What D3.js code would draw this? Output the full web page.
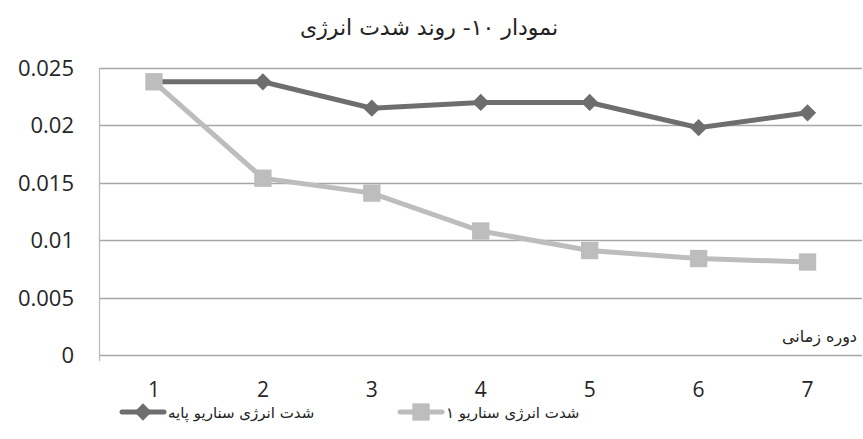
<!DOCTYPE html>
<html>
<head>
<meta charset="utf-8">
<script src="https://cdn.jsdelivr.net/npm/d3@7"></script>
<style>
  body { margin: 0; background: #fff; }
  svg { display: block; }
  .fa { font-family: "DejaVu Sans", sans-serif; }
  .num { font-family: "Open Sans", sans-serif; }
</style>
</head>
<body>
<div id="chart"></div>
<script>
// Chart data
const periods = [1, 2, 3, 4, 5, 6, 7];
const baseScenario = [0.0238, 0.0238, 0.0215, 0.0220, 0.0220, 0.0198, 0.0211];
const scenario1 = [0.0238, 0.0154, 0.0141, 0.0108, 0.0091, 0.0084, 0.0081];
const yTicks = [0, 0.005, 0.01, 0.015, 0.02, 0.025];
const yTickLabels = ['0', '0.005', '0.01', '0.015', '0.02', '0.025'];
const seriesNames = ['شدت انرژی سناریو پایه', 'شدت انرژی سناریو ۱'];
const chartTitle = 'نمودار ۱۰- روند شدت انرژی';
const xAxisTitle = 'دوره زمانی';

const W = 863, H = 439;
const margin = { top: 68, right: 1, bottom: 84, left: 99.5 };

const svg = d3.select('#chart').append('svg')
    .attr('width', W)
    .attr('height', H);

const x = d3.scaleBand()
    .domain(periods)
    .range([margin.left, W - margin.right]);

const y = d3.scaleLinear()
    .domain([0, 0.025])
    .range([H - margin.bottom, margin.top]);

// Gridlines
svg.append('g')
    .selectAll('line')
    .data(yTicks)
    .enter()
    .append('line')
    .attr('x1', margin.left)
    .attr('x2', W - margin.right)
    .attr('y1', d => Math.round(y(d)) + 0.5)
    .attr('y2', d => Math.round(y(d)) + 0.5)
    .attr('stroke', '#a6a6a6')
    .attr('stroke-width', 1.3);

// Vertical axis line
svg.append('line')
    .attr('x1', margin.left)
    .attr('x2', margin.left)
    .attr('y1', y(0.025))
    .attr('y2', y(0) + 6)
    .attr('stroke', '#bcbcbc')
    .attr('stroke-width', 1.3);

// Y tick labels
svg.append('g')
    .selectAll('text')
    .data(yTicks)
    .enter()
    .append('text')
    .attr('class', 'num')
    .attr('x', 74)
    .attr('y', d => y(d))
    .attr('dy', '0.36em')
    .attr('text-anchor', 'end')
    .style('font-size', '22px')
    .attr('fill', '#262626')
    .text((d, i) => yTickLabels[i]);

// X tick labels
svg.append('g')
    .selectAll('text')
    .data(periods)
    .enter()
    .append('text')
    .attr('class', 'num')
    .attr('x', d => x(d) + x.bandwidth() / 2)
    .attr('y', 397)
    .attr('text-anchor', 'middle')
    .style('font-size', '21px')
    .attr('fill', '#262626')
    .text(d => d);

// Axis title
svg.append('text')
    .attr('class', 'fa')
    .attr('x', 857)
    .attr('y', 342)
    .attr('text-anchor', 'end')
    .style('font-size', '16px')
    .attr('fill', '#222')
    .text(xAxisTitle);

// Chart title
svg.append('text')
    .attr('class', 'fa')
    .attr('x', 429)
    .attr('y', 35)
    .attr('text-anchor', 'middle')
    .style('font-size', '22px')
    .attr('fill', '#222')
    .text(chartTitle);

const cx = d => x(d) + x.bandwidth() / 2;
const line = d3.line()
    .x((d, i) => cx(periods[i]))
    .y(d => y(d));

const colors = ['#6e6e6e', '#bdbdbd'];

// Scenario 1 (drawn first so base sits on top at the shared start)
svg.append('path')
    .datum(scenario1)
    .attr('d', line)
    .attr('fill', 'none')
    .attr('stroke', colors[1])
    .attr('stroke-width', 5);

// Base scenario
svg.append('path')
    .datum(baseScenario)
    .attr('d', line)
    .attr('fill', 'none')
    .attr('stroke', colors[0])
    .attr('stroke-width', 5);

const diamond = d3.symbol().type(d3.symbolDiamond2).size(190);
const square = d3.symbol().type(d3.symbolSquare).size(300);

svg.append('g')
    .selectAll('path')
    .data(baseScenario)
    .enter()
    .append('path')
    .attr('d', diamond)
    .attr('transform', (d, i) => `translate(${cx(periods[i])},${y(d)})`)
    .attr('fill', colors[0]);

svg.append('g')
    .selectAll('path')
    .data(scenario1)
    .enter()
    .append('path')
    .attr('d', square)
    .attr('transform', (d, i) => `translate(${cx(periods[i])},${y(d)})`)
    .attr('fill', colors[1]);

// Legend
const legendItems = [
    { x0: 122, name: seriesNames[0], color: colors[0], sym: diamond },
    { x0: 400, name: seriesNames[1], color: colors[1], sym: square }
];
const legendY = 412;
legendItems.forEach(item => {
    svg.append('line')
        .attr('x1', item.x0)
        .attr('x2', item.x0 + 42)
        .attr('y1', legendY)
        .attr('y2', legendY)
        .attr('stroke', item.color)
        .attr('stroke-width', 5)
        .attr('stroke-linecap', 'round');
    svg.append('path')
        .attr('d', item.sym)
        .attr('transform', `translate(${item.x0 + 21},${legendY})`)
        .attr('fill', item.color);
    svg.append('text')
        .attr('class', 'fa')
        .attr('x', item.x0 + 46)
        .attr('y', legendY + 6)
        .attr('text-anchor', 'start')
        .style('font-size', '15px')
        .attr('fill', '#222')
        .text(item.name);
});
</script>
</body>
</html>
